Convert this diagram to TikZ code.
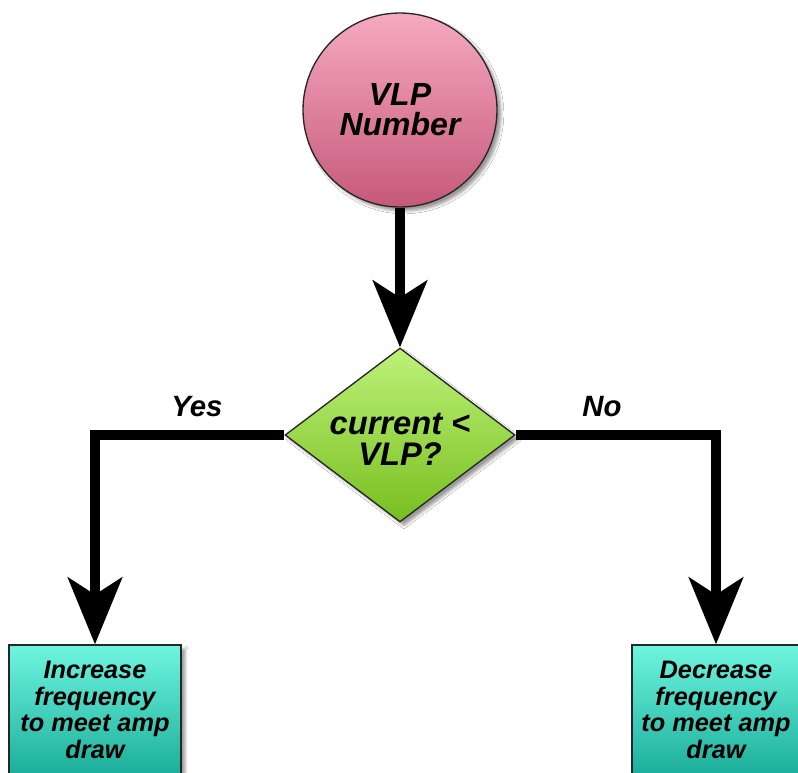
\documentclass[tikz,border=0pt]{standalone}
\usepackage{fontspec}
\setmainfont{Liberation Sans}
\usetikzlibrary{arrows.meta,shapes.geometric,shadows.blur}
\definecolor{pinkTop}{HTML}{F6A9C2}
\definecolor{pinkBot}{HTML}{C6587C}
\definecolor{greenTop}{HTML}{BDF27A}
\definecolor{greenBot}{HTML}{78BE1E}
\definecolor{tealTop}{HTML}{6EF5E0}
\definecolor{tealBot}{HTML}{1BAE9A}
\tikzset{
  startnode/.style={circle, draw=black!85, line width=1pt, minimum size=145.5pt, inner sep=0pt,
    top color=pinkTop, bottom color=pinkBot, blur shadow={shadow xshift=3pt, shadow yshift=-3pt, shadow opacity=40},
    font=\fontsize{24}{22.5}\bfseries\itshape, align=center},
  decision/.style={diamond, draw=black!85, line width=1pt, minimum width=172.5pt, minimum height=130.5pt, inner sep=0pt,
    top color=greenTop, bottom color=greenBot, blur shadow={shadow xshift=3pt, shadow yshift=-3pt, shadow opacity=40}},
  dectext/.style={font=\fontsize{24.5}{23.5}\bfseries\itshape, align=center},
  actbox/.style={rectangle, draw=black!85, line width=1pt, inner sep=0pt,
    minimum height=97.5pt, top color=tealTop, bottom color=tealBot,
    blur shadow={shadow xshift=3pt, shadow yshift=-3pt, shadow opacity=40},
    font=\fontsize{19}{20}\bfseries\itshape, align=center},
  flow/.style={line width=7.5pt, -{Stealth[length=50pt,width=40.5pt,inset=12.75pt]}},
  yesno/.style={font=\fontsize{22}{22}\bfseries\itshape}
}
\begin{document}
\begin{tikzpicture}[x=0.75pt,y=-0.75pt]
\useasboundingbox[fill=white] (0,0) rectangle (798,772);
\node[startnode] (start) at (400,110) {VLP\\Number};
\node[decision] (dec) at (400,435) {};
\node[dectext] (dectxt) at (400,439) {current <\\VLP?};
\node[actbox, minimum width=129pt] (inc) at (95,710) {Increase\\frequency\\to meet amp\\draw};
\node[actbox, minimum width=126pt] (decr) at (716,710) {Decrease\\frequency\\to meet amp\\draw};
\draw[flow] (start.south) -- (dec.north);
\draw[flow] (dec.west) -| (inc.north);
\draw[flow] (dec.east) -| (decr.north);
\node[yesno] (yes) at (197,407) {Yes};
\node[yesno] (no) at (602,407) {No};
\end{tikzpicture}
\end{document}
